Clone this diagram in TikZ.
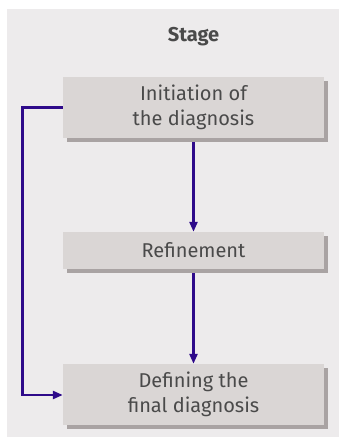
\documentclass[tikz,border=0pt]{standalone}
\usepackage{fontspec}
\setmainfont{Fira Sans}
\usetikzlibrary{arrows.meta}
\definecolor{panel}{HTML}{EDEBEC}
\definecolor{boxfill}{HTML}{DAD6D5}
\definecolor{boxshadow}{HTML}{A9A3A3}
\definecolor{linec}{HTML}{2E0A8A}
\definecolor{txt}{HTML}{4A4A4A}
\tikzset{
  stagebox/.style={fill=boxfill, minimum width=261pt, inner sep=0pt, align=center,
    text=txt, font=\fontsize{20}{25}\selectfont},
  conn/.style={draw=linec, line width=2.4pt, -{Triangle[length=10pt,width=8pt]}}
}
\begin{document}
\begin{tikzpicture}[x=1pt,y=-1pt]
\useasboundingbox (0,0) rectangle (339,441);
\fill[panel] (7,9) rectangle (339,437);
\node[font=\bfseries\fontsize{20}{24}\selectfont, text=txt] (title) at (193.5,37) {Stage};
% shadows
\fill[boxshadow] (67,81) rectangle (328,142);
\fill[boxshadow] (67,236) rectangle (328,273);
\fill[boxshadow] (67,368) rectangle (328,429);
\node[stagebox, minimum height=61pt] (a) at (193.5,107.5) {Initiation of\\the diagnosis};
\node[stagebox, minimum height=37pt] (b) at (193.5,250.5) {Refinement};
\node[stagebox, minimum height=61pt] (c) at (193.5,394.5) {Defining the\\final diagnosis};
\coordinate (k1) at (22.5,107.5);
\coordinate (k2) at (22.5,395);
\draw[conn] ([yshift=-4pt]a.south) -- (b.north);
\draw[conn] ([yshift=-4pt]b.south) -- (c.north);
\draw[conn] (a.west) -- (k1) -- (k2) -- (c.west |- k2);
\end{tikzpicture}
\end{document}
